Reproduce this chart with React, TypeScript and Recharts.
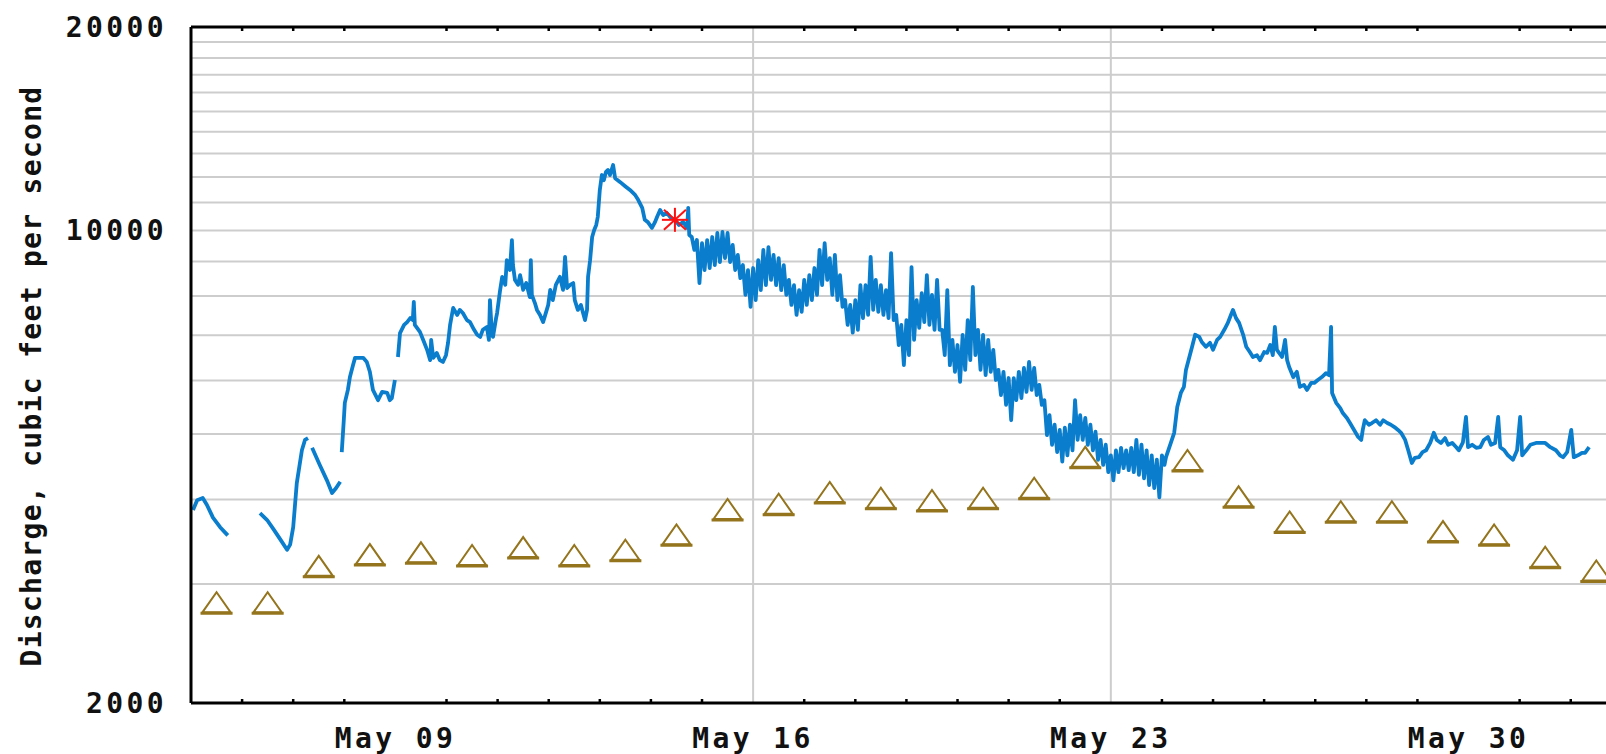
import React from "react";
import { ComposedChart, Line, Scatter, XAxis, YAxis, CartesianGrid, Label } from "recharts";

// x values are days after May 05 00:00, y values are discharge in cfs
const tickDays = [1, 2, 3, 4, 5, 6, 7, 8, 9, 10, 11, 12, 13, 14, 15, 16, 17, 18, 19, 20, 21, 22, 23, 24, 25, 26, 27];
const labelDays = [4, 11, 18, 25];
const labelText = ["May 09", "May 16", "May 23", "May 30"];
const yTicks = [2000, 10000, 20000];
const gridQ = [3000, 4000, 5000, 6000, 7000, 8000, 9000, 10000, 11000, 12000, 13000, 14000, 15000, 16000, 17000, 18000, 19000];
const weekLines = [11, 18];

const discharge: [number, number | null][] = [
  [0.04, 3860], [0.12, 3990], [0.23, 4020], [0.31, 3930], [0.43, 3760], [0.57, 3640], [0.72, 3540], [0.9, null],
  [1.35, 3820], [1.49, 3730], [1.62, 3610], [1.76, 3480], [1.88, 3370], [1.94, 3430], [2.0, 3640], [2.07, 4230],
  [2.17, 4730], [2.23, 4900], [2.29, 4930], [2.33, null], [2.37, 4770], [2.52, 4500], [2.66, 4270], [2.76, 4090],
  [2.84, 4160], [2.92, 4250], [2.935, null],
  [2.95, 4700], [2.99, 5240], [3.01, 5560], [3.07, 5810], [3.11, 6070], [3.17, 6320], [3.21, 6480], [3.37, 6480],
  [3.44, 6390], [3.5, 6180], [3.56, 5810], [3.66, 5610], [3.74, 5770], [3.84, 5750], [3.89, 5610], [3.93, 5650],
  [3.99, 6010], [4.02, null], [4.05, 6500], [4.09, 7050], [4.17, 7250], [4.23, 7320], [4.29, 7420], [4.34, 7370],
  [4.36, 7840], [4.38, 7250], [4.48, 7080], [4.56, 6840], [4.62, 6660], [4.68, 6430], [4.7, 6890], [4.74, 6480],
  [4.81, 6590], [4.87, 6430], [4.93, 6390], [4.99, 6540], [5.03, 6820], [5.07, 7250], [5.13, 7680], [5.21, 7500],
  [5.26, 7630], [5.32, 7550], [5.4, 7370], [5.46, 7320], [5.54, 7130], [5.6, 7010], [5.66, 6960], [5.71, 7130],
  [5.79, 7200], [5.83, 6890], [5.85, 7890], [5.89, 7010], [5.91, 6960], [5.97, 7420], [5.99, 7550], [6.05, 8170],
  [6.09, 8540], [6.15, 8310], [6.18, 9040], [6.24, 8740], [6.28, 9680], [6.3, 8890], [6.34, 8450], [6.4, 8310],
  [6.44, 8590], [6.5, 8170], [6.56, 8360], [6.63, 7970], [6.65, 9040], [6.67, 8030], [6.73, 7810], [6.77, 7630],
  [6.83, 7500], [6.89, 7320], [6.95, 7580], [6.99, 7760], [7.03, 8170], [7.08, 7890], [7.14, 8310], [7.22, 8540],
  [7.28, 8170], [7.32, 9140], [7.36, 8220], [7.42, 8310], [7.48, 8360], [7.51, 7890], [7.57, 7630], [7.63, 7760],
  [7.71, 7370], [7.75, 7630], [7.77, 8540], [7.81, 9040], [7.85, 9780], [7.89, 10020], [7.93, 10190], [7.96, 10470],
  [8.0, 11480], [8.04, 12080], [8.08, 11870], [8.12, 12210], [8.16, 12290], [8.2, 12080], [8.26, 12500], [8.3, 11950],
  [8.4, 11790], [8.49, 11640], [8.59, 11480], [8.69, 11290], [8.75, 11100], [8.83, 10800], [8.88, 10370], [8.94, 10290],
  [9.02, 10090], [9.08, 10290], [9.12, 10470], [9.18, 10720], [9.24, 10540], [9.31, 10620], [9.39, 10440], [9.47, 10370],
  [9.55, 10190], [9.63, 10290], [9.71, 10090], [9.73, 10800], [9.75, 9850],
  [9.8, 9780], [9.85, 9360], [9.9, 9680], [9.95, 8360], [10.0, 9580], [10.05, 8740], [10.1, 9680], [10.15, 8800],
  [10.2, 9780], [10.25, 8890], [10.3, 9920], [10.35, 8980], [10.4, 9950], [10.45, 9100], [10.5, 9920], [10.55, 8980],
  [10.6, 9520], [10.65, 8740], [10.7, 9200], [10.75, 8500], [10.8, 8890], [10.85, 8030], [10.9, 8740], [10.95, 7710],
  [11.0, 8800], [11.05, 7890], [11.1, 9040], [11.15, 8160], [11.2, 9360], [11.25, 8300], [11.3, 9450], [11.35, 8450],
  [11.4, 9200], [11.45, 8300], [11.5, 9100], [11.55, 8160], [11.6, 8890], [11.65, 8030], [11.7, 8450], [11.75, 7760],
  [11.8, 8300], [11.85, 7500], [11.9, 8160], [11.95, 7580], [12.0, 8450], [12.05, 7760], [12.1, 8590], [12.15, 7890],
  [12.2, 8800], [12.25, 8030], [12.3, 9360], [12.35, 8300], [12.4, 9580], [12.45, 8450], [12.5, 9100], [12.55, 8030],
  [12.6, 9200], [12.65, 7890], [12.7, 8590], [12.75, 7710], [12.8, 7890], [12.85, 7250], [12.9, 7760], [12.95, 7060],
  [13.0, 7890], [13.05, 7130], [13.1, 8300], [13.15, 7420], [13.2, 8300], [13.25, 7500], [13.3, 9140], [13.35, 7630],
  [13.4, 8450], [13.45, 7580], [13.5, 8300], [13.55, 7500], [13.6, 8160], [13.65, 7420], [13.7, 9260], [13.75, 7370],
  [13.8, 7500], [13.85, 6770], [13.9, 7250], [13.95, 6320], [14.0, 7370], [14.05, 6540], [14.1, 8830], [14.15, 6890],
  [14.2, 7890], [14.25, 7180], [14.3, 8080], [14.35, 7320], [14.4, 8590], [14.45, 7250], [14.5, 8030], [14.55, 7130],
  [14.6, 8450], [14.65, 7130], [14.7, 7130], [14.75, 6540], [14.8, 8160], [14.85, 6320], [14.9, 6890], [14.95, 6180],
  [15.0, 6770], [15.05, 5970], [15.1, 7010], [15.15, 6220], [15.2, 7370], [15.25, 6430], [15.3, 8250], [15.35, 6540],
  [15.4, 7130], [15.45, 6220], [15.5, 7010], [15.55, 6110], [15.6, 6890], [15.65, 6180], [15.7, 6660], [15.75, 6010],
  [15.8, 6220], [15.85, 5710], [15.9, 6180], [15.95, 5520], [16.0, 6050], [16.05, 5240], [16.1, 6050], [16.15, 5610],
  [16.2, 6180], [16.25, 5650], [16.3, 6260], [16.35, 5770], [16.4, 6390], [16.45, 5810], [16.5, 6260], [16.55, 5710],
  [16.6, 5910], [16.65, 5520], [16.7, 5610], [16.75, 4980], [16.8, 5330], [16.85, 4820], [16.9, 5160], [16.95, 4700],
  [17.0, 5070], [17.05, 4550], [17.1, 5110], [17.15, 4650], [17.2, 5160], [17.25, 4730], [17.3, 5610], [17.35, 4900],
  [17.4, 5330], [17.45, 4900], [17.5, 5280], [17.55, 4820], [17.6, 5160], [17.65, 4730], [17.7, 5040], [17.75, 4580],
  [17.8, 4900], [17.85, 4500], [17.9, 4820], [17.95, 4390], [18.0, 4650], [18.05, 4270], [18.1, 4730], [18.15, 4390],
  [18.2, 4770], [18.25, 4450], [18.3, 4730], [18.35, 4420], [18.4, 4770], [18.45, 4390], [18.5, 4900], [18.55, 4350],
  [18.6, 4820], [18.65, 4300], [18.7, 4730], [18.75, 4200], [18.8, 4650], [18.85, 4160], [18.9, 4580], [18.95, 4030],
  [19.0, 4650], [19.05, 4500],
  [19.08, 4620], [19.24, 5020], [19.3, 5480], [19.37, 5750], [19.43, 5870], [19.47, 6220], [19.59, 6730], [19.65, 7010],
  [19.73, 6960], [19.78, 6840], [19.86, 6730], [19.94, 6820], [20.0, 6660], [20.08, 6890], [20.14, 6960], [20.22, 7130],
  [20.29, 7300], [20.35, 7500], [20.39, 7630], [20.45, 7420], [20.51, 7300], [20.59, 7010], [20.65, 6730], [20.72, 6610],
  [20.78, 6500], [20.86, 6540], [20.92, 6430], [21.0, 6610], [21.06, 6590], [21.12, 6770], [21.17, 6540], [21.21, 7200],
  [21.25, 6660], [21.35, 6500], [21.41, 6890], [21.45, 6430], [21.49, 6280], [21.57, 6070], [21.64, 6180], [21.7, 5870],
  [21.78, 5910], [21.84, 5810], [21.92, 5950], [21.98, 5950], [22.05, 6010], [22.13, 6070], [22.21, 6150], [22.27, 6110],
  [22.31, 7200], [22.33, 5750], [22.41, 5560], [22.49, 5460], [22.54, 5370], [22.62, 5280], [22.68, 5190], [22.76, 5070],
  [22.84, 4950], [22.9, 4900], [22.93, 5070], [22.97, 5240], [23.05, 5160], [23.11, 5190], [23.19, 5240], [23.27, 5160],
  [23.33, 5240], [23.41, 5190], [23.48, 5160], [23.55, 5120], [23.62, 5070], [23.68, 5020], [23.76, 4900], [23.82, 4730],
  [23.89, 4530], [23.95, 4610], [24.03, 4620], [24.1, 4700], [24.17, 4730], [24.25, 4850], [24.32, 5020], [24.38, 4900],
  [24.46, 4850], [24.54, 4930], [24.6, 4820], [24.68, 4850], [24.76, 4780], [24.81, 4730], [24.89, 4860], [24.95, 5300],
  [24.99, 4780], [25.07, 4820], [25.15, 4770], [25.23, 4780], [25.3, 4900], [25.38, 4950], [25.44, 4820], [25.52, 4850],
  [25.58, 5300], [25.62, 4780], [25.7, 4730], [25.77, 4650], [25.87, 4580], [25.95, 4730], [26.01, 5300], [26.05, 4650],
  [26.13, 4730], [26.21, 4820], [26.32, 4850], [26.4, 4850], [26.5, 4850], [26.6, 4780], [26.71, 4730], [26.79, 4650],
  [26.85, 4620], [26.93, 4700], [27.01, 5070], [27.06, 4620], [27.14, 4650], [27.22, 4690], [27.28, 4690], [27.36, 4780],
];

// daily median discharge, one per day at noon (May 23 not shown)
const medianDays = [0.5, 1.5, 2.5, 3.5, 4.5, 5.5, 6.5, 7.5, 8.5, 9.5, 10.5, 11.5, 12.5, 13.5, 14.5, 15.5, 16.5, 17.5, 18.5, 19.5, 20.5, 21.5, 22.5, 23.5, 24.5, 25.5, 26.5, 27.5];
const medianQ = [2810, 2810, 3180, 3310, 3330, 3300, 3390, 3300, 3360, 3540, 3860, 3930, 4090, 4010, 3980, 4010, 4150, 4610, null, 4560, 4030, 3700, 3830, 3830, 3580, 3540, 3280, 3130];

const peakDay = [9.47];
const peakQ = [10370];

const BLUE = "#0a7dcc";
const BROWN = "#94741c";

const lineData = discharge.map(([d, q]) => ({ d, q }));
const medianData = medianDays.map((d, i) => ({ d, q: medianQ[i] })).filter((p) => p.q != null);
const peakData = peakDay.map((d, i) => ({ d, q: peakQ[i] }));

const font = {
  fontFamily: "'DejaVu Sans Mono', monospace",
  fontWeight: 700,
  fontSize: 28,
  letterSpacing: 3.4,
  fill: "#111",
};

const BottomTick = (p: any) => {
  const i = labelDays.indexOf(p.payload.value);
  if (i >= 0) {
    return (
      <text x={p.x} y={p.y + 45} textAnchor="middle" style={font}>
        {labelText[i]}
      </text>
    );
  }
  return <line x1={p.x} x2={p.x} y1={p.y} y2={p.y - 4} stroke="#000" strokeWidth={2.5} />;
};

const TopTick = (p: any) => {
  if (labelDays.indexOf(p.payload.value) >= 0) return <g />;
  return <line x1={p.x} x2={p.x} y1={p.y} y2={p.y + 4} stroke="#000" strokeWidth={2.5} />;
};

const LeftTick = (p: any) => (
  <text x={p.x} y={p.y + 10} textAnchor="end" style={font}>
    {p.payload.value}
  </text>
);

const Triangle = (p: any) => {
  const { cx, cy } = p;
  return (
    <g>
      <path d={`M${cx - 14},${cy + 9} L${cx},${cy - 11} L${cx + 14},${cy + 9} Z`} fill="#fff" stroke={BROWN} strokeWidth={2} />
      <line x1={cx - 16} x2={cx + 16} y1={cy + 10} y2={cy + 10} stroke={BROWN} strokeWidth={3} />
    </g>
  );
};

const Asterisk = (p: any) => {
  const { cx, cy } = p;
  return (
    <g stroke="#ff1010" strokeWidth={2}>
      <line x1={cx - 13} x2={cx + 13} y1={cy} y2={cy} />
      <line x1={cx} x2={cx} y1={cy - 12} y2={cy + 12} />
      <line x1={cx - 11} x2={cx + 11} y1={cy - 10} y2={cy + 10} />
      <line x1={cx - 11} x2={cx + 11} y1={cy + 10} y2={cy - 10} />
    </g>
  );
};

const YTitle = () => (
  <text
    transform="translate(31,376) rotate(-90)"
    textAnchor="middle"
    dominantBaseline="central"
    style={{ ...font, letterSpacing: 1.3 }}
  >
    Discharge, cubic feet per second
  </text>
);

export default function App() {
  return (
    <div style={{ position: "absolute", left: 0, top: 0, width: 1606, height: 754, background: "#fff" }}>
      <ComposedChart width={1606} height={754} margin={{ top: 17, right: 0, bottom: 0, left: 0 }}>
        <CartesianGrid
          horizontal
          vertical
          horizontalValues={gridQ}
          verticalValues={weekLines}
          stroke="#cdcdcd"
          strokeWidth={2}
        />
        <XAxis
          type="number"
          dataKey="d"
          domain={[0, 27.69]}
          allowDataOverflow
          ticks={tickDays}
          interval={0}
          tick={<BottomTick />}
          tickLine={false}
          tickSize={0}
          tickMargin={0}
          height={51}
          axisLine={{ stroke: "#000", strokeWidth: 3 }}
        />
        <XAxis
          xAxisId="top"
          orientation="top"
          type="number"
          dataKey="d"
          domain={[0, 27.69]}
          allowDataOverflow
          ticks={tickDays}
          interval={0}
          tick={<TopTick />}
          tickLine={false}
          tickSize={0}
          tickMargin={0}
          height={10}
          axisLine={{ stroke: "#000", strokeWidth: 3 }}
        />
        <YAxis
          type="number"
          scale="log"
          domain={[2000, 20000]}
          allowDataOverflow
          ticks={yTicks}
          interval={0}
          tick={<LeftTick />}
          tickLine={false}
          tickSize={0}
          tickMargin={24}
          width={191}
          axisLine={{ stroke: "#000", strokeWidth: 3 }}
        >
          <Label content={<YTitle />} />
        </YAxis>
        <Line
          data={lineData}
          dataKey="q"
          type="linear"
          stroke={BLUE}
          strokeWidth={3.8}
          strokeLinejoin="round"
          dot={false}
          connectNulls={false}
          isAnimationActive={false}
        />
        <Scatter data={medianData} dataKey="q" shape={<Triangle />} isAnimationActive={false} />
        <Scatter data={peakData} dataKey="q" shape={<Asterisk />} isAnimationActive={false} />
      </ComposedChart>
    </div>
  );
}
